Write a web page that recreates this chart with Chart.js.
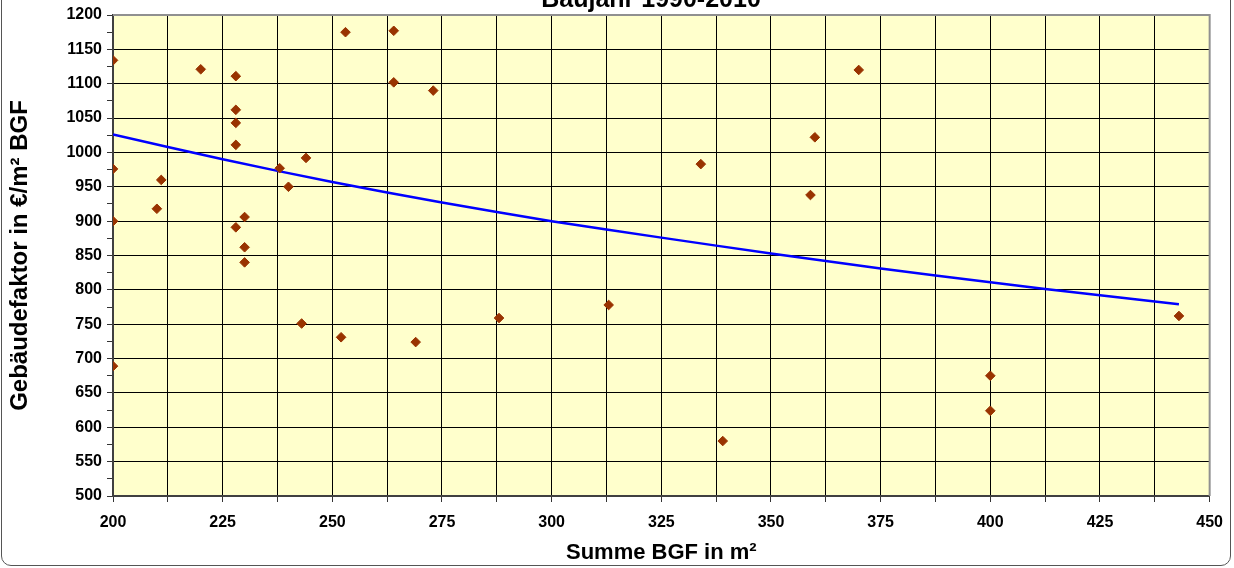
<!DOCTYPE html>
<html><head><meta charset="utf-8">
<script src="https://cdn.jsdelivr.net/npm/chart.js@4/dist/chart.umd.min.js"></script>
<style>
html,body{margin:0;padding:0;background:#fff;}
#wrap{position:relative;width:1234px;height:568px;overflow:hidden;}
#frame{position:absolute;left:1px;top:-20px;width:1228px;height:584px;border:1px solid #555;border-radius:10px;pointer-events:none;}
canvas{position:absolute;left:0;top:0;}
</style></head>
<body><div id="wrap"><canvas id="c" width="1234" height="568"></canvas><div id="frame"></div></div>
<script>
const chartTitle = 'Baujahr 1990-2010';
const xTitle = 'Summe BGF in m²';
const yTitle = 'Gebäudefaktor in €/m² BGF';
const bgfX = [200,200,200,200,210,211,220,228,228,228,228,228,230,230,230,238,240,244,243,252,253,264,264,273,269,288,313,334,339,359,360,370,400,400,443];
const factorY = [1134,976,900,689,918,960,1121,1111,1062,1043,1011,891,906,862,840,977,950,992,751,731,1175,1177,1102,1090,724,759,778,983,580,938,1022,1120,675,624,762];
const trendX = [200,225,250,275,300,325,350,375,400,425,443];
const trendY = [1026,990,957,927,900,876,853,831,811,792,779];
const xMin = 200, xMax = 450, xStep = 12.5, xLabelEvery = 25;
const yMin = 500, yMax = 1200, yStep = 25, yLabelEvery = 50;

const FONT = '"Liberation Sans", Arial, sans-serif';

const plotDeco = {
  id: 'plotDeco',
  beforeDraw(chart) {
    const {ctx, chartArea: a} = chart;
    ctx.save();
    ctx.fillStyle = '#FFFFCC';
    ctx.fillRect(a.left, a.top, a.right - a.left, a.bottom - a.top);
    ctx.restore();
  },
  beforeDatasetsDraw(chart) {
    const {ctx, chartArea: a} = chart;
    ctx.save();
    ctx.strokeStyle = '#909090';
    ctx.lineWidth = 2;
    ctx.beginPath();
    ctx.moveTo(a.left, a.top);
    ctx.lineTo(a.right, a.top);
    ctx.lineTo(a.right, a.bottom);
    ctx.stroke();
    ctx.restore();
  },
  afterDraw(chart) {
    const {ctx} = chart;
    ctx.save();
    ctx.font = 'bold 25px ' + FONT;
    ctx.fillStyle = '#000';
    ctx.textAlign = 'center';
    ctx.textBaseline = 'alphabetic';
    ctx.fillText(chartTitle, 651, 7);
    ctx.restore();
  }
};

new Chart(document.getElementById('c'), {
  type: 'scatter',
  data: {
    datasets: [
      {
        label: 'Gebäudefaktor',
        data: bgfX.map((x, i) => ({x: x, y: factorY[i]})),
        pointStyle: 'rectRot',
        pointRadius: 4.8,
        backgroundColor: '#993300',
        borderColor: '#993300',
        borderWidth: 1,
        showLine: false
      },
      {
        label: 'Trend',
        data: trendX.map((x, i) => ({x: x, y: trendY[i]})),
        showLine: true,
        pointRadius: 0,
        borderColor: '#0000FF',
        borderWidth: 2.5,
        fill: false,
        tension: 0.3
      }
    ]
  },
  options: {
    responsive: false,
    animation: false,
    devicePixelRatio: 1,
    layout: {padding: {top: 15, right: 23, bottom: 0, left: 0}},
    plugins: {legend: {display: false}, tooltip: {enabled: false}, title: {display: false}},
    scales: {
      x: {
        type: 'linear', min: xMin, max: xMax,
        afterFit: s => { s.height = 72; },
        ticks: {
          stepSize: xStep, autoSkip: false, maxRotation: 0, padding: 11,
          color: '#000', font: {family: FONT, size: 16, weight: 'bold'},
          callback: v => (v % xLabelEvery === 0 ? v : '')
        },
        grid: {color: '#000', lineWidth: 1, tickColor: '#333', tickLength: 6, tickWidth: 1},
        border: {color: '#404040', width: 2},
        title: {display: true, text: xTitle, color: '#000', font: {family: FONT, size: 22, weight: 'bold'}, padding: {top: 0, bottom: 2}}
      },
      y: {
        type: 'linear', min: yMin, max: yMax,
        afterFit: s => { s.width = 113; },
        ticks: {
          stepSize: yStep, autoSkip: false, padding: 5,
          color: '#000', font: {family: FONT, size: 16, weight: 'bold'},
          callback: v => (v % yLabelEvery === 0 ? v : '')
        },
        grid: {
          color: c => (c.tick && c.tick.value % yLabelEvery === 0 ? '#000' : 'rgba(0,0,0,0)'),
          lineWidth: 1, tickColor: '#333', tickLength: 6, tickWidth: 1
        },
        border: {color: '#404040', width: 2},
        title: {display: true, text: yTitle, color: '#000', font: {family: FONT, size: 24, weight: 'bold'}, padding: {top: 6, bottom: 0}}
      }
    }
  },
  plugins: [plotDeco]
});
</script>
</body></html>
